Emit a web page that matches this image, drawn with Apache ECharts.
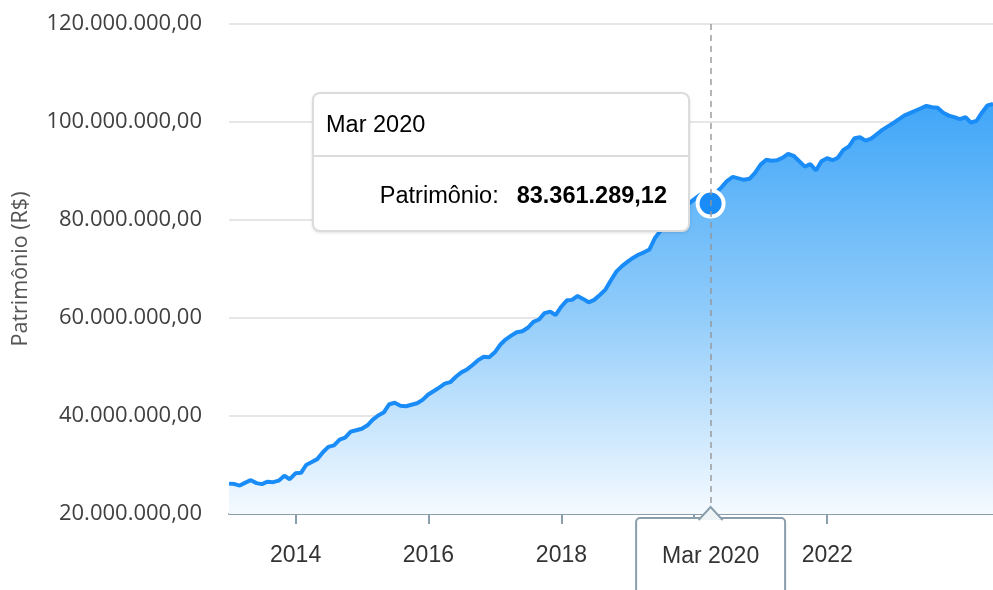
<!DOCTYPE html>
<html>
<head>
<meta charset="utf-8">
<script src="https://cdn.jsdelivr.net/npm/echarts@6/dist/echarts.min.js"></script>
<style>
  html, body { margin: 0; padding: 0; background: #fff; }
  #chart { width: 993px; height: 590px; }
</style>
</head>
<body>
<div id="chart"></div>
<script>
// monthly wealth, in millions of R$, from Dec 2012 to Jun 2024
const startYear = 2012
const startMonth = 11 // December
const patrimonio = [
  26.2, 26.1, 25.8, 26.4, 26.9, 26.3, 26.1, 26.6, 26.5, 26.8, 27.8, 27.1,
  28.3, 28.4, 30.0, 30.6, 31.2, 32.6, 33.7, 34.0, 35.2, 35.6, 36.8, 37.1,
  37.4, 38.1, 39.2, 40.1, 40.7, 42.4, 42.7, 42.1, 42.0, 42.3, 42.6, 43.3,
  44.4, 45.1, 45.8, 46.6, 46.9, 48.0, 48.9, 49.5, 50.4, 51.4, 52.1, 52.0,
  53.0, 54.6, 55.6, 56.4, 57.1, 57.3, 58.0, 59.2, 59.7, 61.0, 61.3, 60.6,
  62.3, 63.6, 63.7, 64.5, 63.9, 63.2, 63.7, 64.7, 65.8, 67.7, 69.5, 70.6,
  71.5, 72.3, 72.9, 73.4, 74.0, 76.4, 77.8, 79.0, 80.2, 81.2, 82.3, 83.3,
  84.2, 85.1, 85.4, 83.36128912, 85.6, 86.7, 88.0, 88.8, 88.5, 88.2, 88.4, 89.6,
  91.3, 92.3, 92.1, 92.2, 92.7, 93.5, 93.1, 92.0, 90.9, 91.4, 90.1, 92.0,
  92.6, 92.2, 92.7, 94.3, 95.0, 96.7, 96.9, 96.2, 96.6, 97.5, 98.4, 99.1,
  99.8, 100.6, 101.3, 101.8, 102.3, 102.8, 103.3, 103.0, 102.9, 101.9, 101.3, 101.0,
  100.6, 101.0, 99.9, 100.2, 101.9, 103.4, 103.7
]
const tickYears = [2014, 2016, 2018, 2020, 2022]
const monthNames = ['Jan', 'Feb', 'Mar', 'Apr', 'May', 'Jun', 'Jul', 'Aug', 'Sep', 'Oct', 'Nov', 'Dec']
const selectedIndex = 87 // Mar 2020

// each point sits on the last day of its month
const dates = patrimonio.map((v, i) => Date.UTC(startYear, startMonth + i + 1, 0))
const seriesData = patrimonio.map((v, i) => [dates[i], v * 1e6])
const yearTicks = tickYears.map((y) => Date.UTC(y, 0, 1))

function brl(v) {
  const parts = Math.abs(v).toFixed(2).split('.')
  return parts[0].replace(/\B(?=(\d{3})+(?!\d))/g, '.') + ',' + parts[1]
}
function monthLabel(ts) {
  const d = new Date(ts)
  return monthNames[d.getUTCMonth()] + ' ' + d.getUTCFullYear()
}

const axisColor = '#8a9eab'
const lineColor = '#1a8cf8'

const option = {
  animation: false,
  grid: { left: 229, right: 0, top: 24, bottom: 76, outerBoundsMode: 'none' },
  xAxis: {
    type: 'value',
    min: dates[0],
    max: dates[dates.length - 1],
    axisLine: { lineStyle: { color: axisColor, width: 2 } },
    axisTick: {
      length: 10,
      customValues: yearTicks,
      lineStyle: { color: axisColor, width: 2 }
    },
    axisLabel: {
      customValues: yearTicks,
      formatter: (v) => String(new Date(v).getUTCFullYear()),
      margin: 30,
      color: '#333',
      fontSize: 23,
      fontFamily: 'Liberation Sans, Arial, sans-serif'
    },
    splitLine: { show: false }
  },
  yAxis: {
    type: 'value',
    min: 20000000,
    max: 120000000,
    interval: 20000000,
    name: 'Patrimônio (R$)',
    nameLocation: 'middle',
    nameGap: 197,
    nameTextStyle: { color: '#555', fontSize: 21.5, fontFamily: 'Open Sans, sans-serif' },
    axisLine: { show: false },
    axisTick: { show: false },
    axisLabel: {
      formatter: (v) => brl(v),
      margin: 27,
      color: '#404040',
      fontSize: 22,
      fontFamily: 'Open Sans, sans-serif'
    },
    splitLine: { lineStyle: { color: '#e6e6e6', width: 2 } }
  },
  tooltip: {
    trigger: 'axis',
    triggerOn: 'none',
    alwaysShowContent: true,
    transitionDuration: 0,
    padding: 0,
    backgroundColor: '#fff',
    borderColor: '#dcdcdc',
    borderWidth: 2,
    extraCssText: 'border-radius:8px;box-shadow:0 1px 3px rgba(0,0,0,0.12);',
    position: (point, params, dom, rect, size) => [point[0] - size.contentSize[0] - 21, point[1] - 112],
    formatter: (params) => {
      const p = params[0]
      return '<div style="width:374px;font-family:Liberation Sans,Arial,sans-serif;color:#000;">' +
        '<div style="height:61px;line-height:61px;padding-left:12px;font-size:23.5px;border-bottom:2px solid #dcdcdc;">' +
        monthLabel(p.value[0]) + '</div>' +
        '<div style="padding:24px 21px 21px 0;line-height:28px;font-size:23.5px;text-align:right;">' +
        'Patrimônio:<b style="margin-left:18px;">' + brl(p.value[1]) + '</b></div></div>'
    },
    axisPointer: {
      type: 'line',
      snap: true,
      lineStyle: { color: 'rgba(150,150,150,0.7)', width: 2, type: [6, 5] },
      label: { show: false }
    }
  },
  series: [
    {
      name: 'Patrimônio',
      type: 'line',
      data: seriesData,
      showSymbol: false,
      symbolSize: 26,
      itemStyle: { color: lineColor, borderColor: '#fff', borderWidth: 4 },
      emphasis: { disabled: true },
      lineStyle: { color: lineColor, width: 4 },
      areaStyle: {
        opacity: 1,
        color: new echarts.graphic.LinearGradient(0, 0, 0, 1, [
          { offset: 0, color: '#40a6f8' },
          { offset: 0.5, color: '#8fcbfa' },
          { offset: 1, color: '#f5faff' }
        ])
      },
      markPoint: {
        symbol: 'circle',
        symbolSize: 26,
        itemStyle: { color: lineColor, borderColor: '#fff', borderWidth: 4 },
        label: { show: false },
        data: [{ coord: seriesData[selectedIndex] }]
      }
    }
  ]
}

const myChart = echarts.init(document.getElementById('chart'))
myChart.setOption(option)
myChart.dispatchAction({ type: 'showTip', seriesIndex: 0, dataIndex: selectedIndex })

// x-axis crosshair label with its little arrow, placed from the selected point
const px = myChart.convertToPixel({ seriesIndex: 0 }, seriesData[selectedIndex])[0]
const axisY = myChart.convertToPixel({ yAxisIndex: 0 }, 20000000)
const arrow = [[px - 12, axisY + 6], [px, axisY - 7], [px + 12, axisY + 6]]
myChart.setOption({
  graphic: [
    {
      type: 'rect',
      z: 200,
      shape: { x: px - 74.5, y: axisY + 4, width: 149, height: 100, r: 4 },
      style: { fill: '#fff', stroke: axisColor, lineWidth: 2 }
    },
    {
      type: 'polygon',
      z: 201,
      shape: { points: arrow },
      style: { fill: '#eef3f6' }
    },
    {
      type: 'polyline',
      z: 202,
      shape: { points: arrow },
      style: { stroke: axisColor, lineWidth: 2, fill: null }
    },
    {
      type: 'text',
      z: 203,
      x: px,
      y: axisY + 43,
      style: {
        text: monthLabel(dates[selectedIndex]),
        align: 'center',
        verticalAlign: 'middle',
        fill: '#333',
        font: '23px "Liberation Sans", Arial, sans-serif'
      }
    }
  ]
})
</script>
</body>
</html>
